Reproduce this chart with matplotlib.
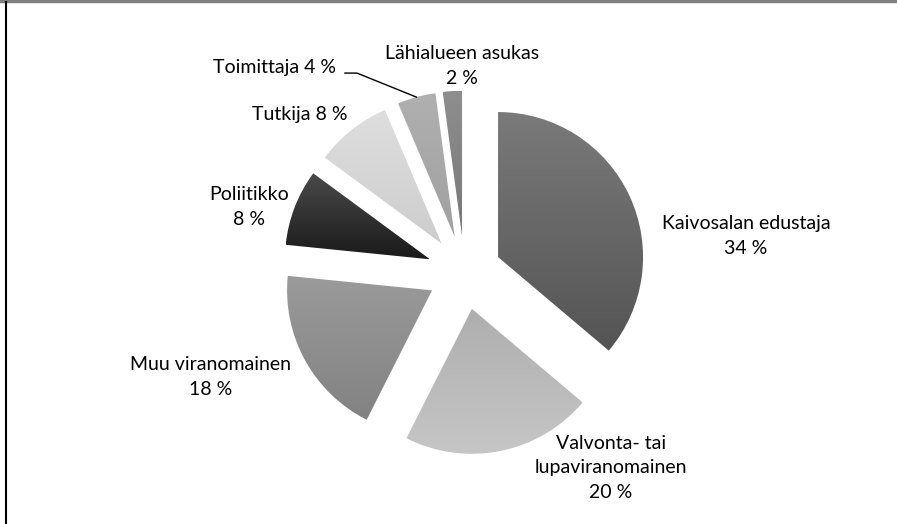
"""Exploded pie: who is quoted in mining news (share of sources)."""

import matplotlib

matplotlib.use("Agg")
import matplotlib.pyplot as plt
import numpy as np
from matplotlib.colors import LinearSegmentedColormap

# data
labels = [
    "Kaivosalan edustaja\n34 %",
    "Valvonta- tai\nlupaviranomainen\n20 %",
    "Muu viranomainen\n18 %",
    "Poliitikko\n8 %",
    "Tutkija 8 %",
    "Toimittaja 4 %",
    "Lähialueen asukas\n2 %",
]
shares = [34, 20, 18, 8, 8, 4, 2]

# style: gradient (top, bottom) per slice
grad_colors = [
    ("#7a7a7a", "#545454"),
    ("#aeaeae", "#c6c6c6"),
    ("#9a9a9a", "#828282"),
    ("#4a4a4a", "#1a1a1a"),
    ("#dedede", "#cdcdcd"),
    ("#b0b0b0", "#a0a0a0"),
    ("#8e8e8e", "#787878"),
]
# label placement: (angle clockwise from 12 o'clock in deg, distance in radii)
label_polar = [
    (82.6, 1.958),
    (143.1, 1.684),
    (247.6, 1.891),
    (286.9, 1.554),
    (313.9, 1.574),
    (317.3, 1.928),
    (359.4, 1.425),
]

W, H, DPI = 897, 524, 100
R_PX = 145.0
CX, CY = 464.5, 524 - 272.6
EXPLODE = 0.255

plt.rcParams["font.family"] = ["Lato", "DejaVu Sans"]

fig = plt.figure(figsize=(W / DPI, H / DPI), dpi=DPI)
ax = fig.add_axes([0, 0, 1, 1])

wedges, _ = ax.pie(
    shares,
    startangle=90,
    counterclock=False,
    explode=[EXPLODE] * len(shares),
    colors=[c[0] for c in grad_colors],
    wedgeprops=dict(linewidth=0),
)

for w, (top, bot) in zip(wedges, grad_colors):
    ext = w.get_path().get_extents()
    cmap = LinearSegmentedColormap.from_list("g", [bot, top])
    grad = np.linspace(0, 1, 256).reshape(-1, 1)
    im = ax.imshow(
        grad,
        cmap=cmap,
        origin="lower",
        extent=(ext.x0, ext.x1, ext.y0, ext.y1),
        aspect="auto",
        interpolation="bilinear",
        zorder=2,
    )
    im.set_clip_path(w)
    w.set_facecolor("none")

for lab, (ang, dist) in zip(labels, label_polar):
    t = np.deg2rad(90 - ang)
    ax.text(
        dist * np.cos(t),
        dist * np.sin(t),
        lab,
        ha="center",
        va="center",
        multialignment="center",
        fontsize=14,
        color="black",
        linespacing=1.55,
        zorder=5,
    )

# leader line for Toimittaja: from slice rim to the right end of the label
w_toim = wedges[5]
mid = np.deg2rad((w_toim.theta1 + w_toim.theta2) / 2)
cx0, cy0 = w_toim.center
tip = (cx0 + np.cos(mid), cy0 + np.sin(mid))
lab_t = np.deg2rad(90 - label_polar[5][0])
lx = label_polar[5][1] * np.cos(lab_t)
ly = label_polar[5][1] * np.sin(lab_t)
ax.plot(
    [lx + 0.483, lx + 0.566, tip[0]],
    [ly - 0.041, ly - 0.041, tip[1]],
    color="black",
    linewidth=1.0,
    zorder=4,
)

ax.set_xlim(-CX / R_PX, (W - CX) / R_PX)
ax.set_ylim(-CY / R_PX, (H - CY) / R_PX)
ax.set_aspect("auto")
ax.axis("off")

# frame lines seen in the source image
fig.add_artist(plt.Line2D([0, 1], [1 - 1.0 / H, 1 - 1.0 / H], color="#808080", linewidth=2.5))
fig.add_artist(plt.Line2D([6.0 / W, 6.0 / W], [0, 1 - 2.0 / H], color="black", linewidth=1.5))

fig.savefig("out.png", dpi=DPI)
